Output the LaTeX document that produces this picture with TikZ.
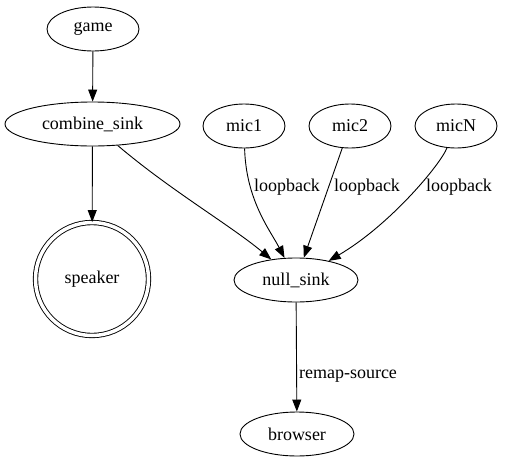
\documentclass[tikz,border=0pt]{standalone}
\usepackage{fontspec}
\setmainfont{Liberation Serif}
\usetikzlibrary{arrows.meta,shapes.geometric}
\begin{document}
\begin{tikzpicture}[x=1pt,y=-1pt,
  every node/.style={font=\fontsize{18}{20}\selectfont},
  ell/.style={draw,ellipse,line width=0.9pt,inner sep=0pt,minimum height=44pt},
  edge/.style={line width=0.9pt,-{Triangle[length=12pt,width=9pt]}},
  lbl/.style={inner sep=0pt}]
\path[use as bounding box] (0,0) rectangle (507,464);
\node[ell,minimum width=92pt] (game) at (93,29) {game};
\node[ell,minimum width=175pt] (combine) at (92.5,124) {combine\_sink};
\node[ell,minimum width=82pt] (mic1) at (244,126) {mic1};
\node[ell,minimum width=82pt] (mic2) at (350,126) {mic2};
\node[ell,minimum width=82pt] (micN) at (456,126) {micN};
\node[draw,circle,double,double distance=3.5pt,line width=0.9pt,minimum size=113pt,inner sep=0pt] (speaker) at (92,279) {speaker};
\node[ell,minimum width=124pt] (null) at (296,280) {null\_sink};
\node[ell,minimum width=114pt] (browser) at (297,434) {browser};
\draw[edge] (game) -- (combine);
\draw[edge] (combine) -- (speaker);
\draw[edge] (combine) .. controls (170,190) and (230,225) .. (null);
\draw[edge] (mic1) .. controls (246,200) and (270,230) .. (null);
\draw[edge] (mic2) -- (null);
\draw[edge] (micN) .. controls (440,165) and (390,225) .. (null);
\draw[edge] (null) -- (browser);
\node[lbl] (l1) at (287,187) {loopback};
\node[lbl] (l2) at (367,187) {loopback};
\node[lbl] (l3) at (459,187) {loopback};
\node[lbl] (l4) at (348,376) {remap-source};
\end{tikzpicture}
\end{document}
